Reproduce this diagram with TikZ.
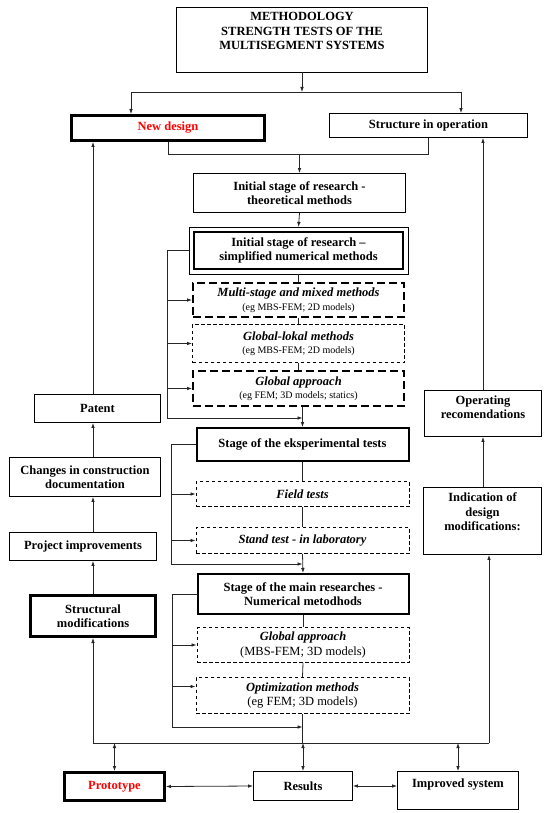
\documentclass[tikz,border=0pt]{standalone}
\usepackage{fontspec}
\setmainfont{Liberation Serif}
\usetikzlibrary{arrows.meta,calc}
\begin{document}
\begin{tikzpicture}[x=1pt,y=-1pt,
  box/.style={draw=black, line width=0.9pt, rectangle, inner sep=0pt, align=center,
    font=\fontsize{12.5}{14.5}\selectfont\bfseries},
  bbox/.style={box, line width=2pt},
  tbox/.style={box, line width=3pt},
  dbox/.style={box, dash pattern=on 3.5pt off 2.5pt, line width=0.9pt,
    font=\fontsize{12.5}{14.5}\selectfont},
  Dbox/.style={box, dash pattern=on 8pt off 4pt, line width=2pt,
    font=\fontsize{12.5}{14.5}\selectfont},
  hd/.style={},
  ln/.style={draw=black!85, line width=0.8pt},
  arr/.style={ln, -{Latex[length=5pt,width=3.6pt]}},
  darr/.style={ln, {Latex[length=5pt,width=3.6pt]}-{Latex[length=5pt,width=3.6pt]}}
]
\useasboundingbox (0,0) rectangle (550,813);

% ---------- nodes ----------
\node[box, minimum width=251, minimum height=65, text depth=17pt] (title) at (302,39.5)
  {METHODOLOGY\\STRENGTH TESTS OF THE\\MULTISEGMENT SYSTEMS};
\node[tbox, minimum width=193, minimum height=25, text=red] (newdesign) at (168,128) {New design};
\node[box, minimum width=198, minimum height=24] (structure) at (428.5,125.5) {Structure in operation};
\node[box, minimum width=212, minimum height=39] (theo) at (299.5,193)
  {Initial stage of research -\\theoretical methods};
\node[bbox, minimum width=209, minimum height=37] (simpl) at (298.5,250.5)
  {Initial stage of research --\\simplified numerical methods};
\draw[line width=0.9pt] ([shift={(-4pt,4pt)}]simpl.north west) rectangle ([shift={(4pt,-4pt)}]simpl.south east);
\node[Dbox, minimum width=211, minimum height=34] (multi) at (298.5,300)
  {{\bfseries\itshape Multi-stage and mixed methods}\\[-1pt]{\fontsize{10}{12}\selectfont (eg MBS-FEM; 2D models)}};
\node[dbox, minimum width=212, minimum height=38] (glok) at (298.5,343.5)
  {{\bfseries\itshape Global-lokal methods}\\[-1pt]{\fontsize{10}{12}\selectfont (eg MBS-FEM; 2D models)}};
\node[Dbox, minimum width=211, minimum height=35] (gapp) at (298.5,388.5)
  {{\bfseries\itshape Global approach}\\[-1pt]{\fontsize{10}{12}\selectfont (eg FEM; 3D models; statics)}};
\node[bbox, minimum width=212, minimum height=33] (eksp) at (302.5,444.5) {Stage of the eksperimental tests};
\node[dbox, minimum width=213, minimum height=25] (field) at (302.5,494) {\bfseries\itshape Field tests};
\node[dbox, minimum width=213, minimum height=26] (stand) at (302.5,540.5) {\bfseries\itshape Stand test - in laboratory};
\node[bbox, minimum width=211, minimum height=40] (main) at (303,594)
  {Stage of the main researches -\\Numerical metodhods};
\node[dbox, minimum width=212, minimum height=35] (gapp2) at (303,645)
  {{\bfseries\itshape Global approach}\\(MBS-FEM; 3D models)};
\node[dbox, minimum width=213, minimum height=36] (optim) at (302.5,695.5)
  {{\bfseries\itshape Optimization methods}\\(eg FEM; 3D models)};

\node[box, minimum width=126, minimum height=28] (patent) at (97.5,408.5) {Patent};
\node[box, minimum width=151, minimum height=39] (changes) at (85,477) {Changes in construction\\documentation};
\node[box, minimum width=147, minimum height=28] (project) at (83,546.5) {Project improvements};
\node[tbox, minimum width=125, minimum height=41] (structmod) at (93,616) {Structural\\modifications};

\node[box, minimum width=117, minimum height=46, text depth=13pt] (operating) at (483,413.5) {Operating\\recomendations};
\node[box, minimum width=118, minimum height=67, text depth=18pt] (indication) at (482.5,521)
  {Indication of\\design\\modifications:};

\node[tbox, minimum width=100, minimum height=28, text=red] (prototype) at (114.5,786.5) {Prototype};
\node[box, minimum width=99, minimum height=29] (results) at (303,786) {Results};
\node[box, minimum width=121, minimum height=38, text depth=14pt] (improved) at (458,790.5) {Improved system};

% ---------- connectors ----------
\coordinate (jt) at (302,92);
\draw[arr] (title.south) -- (jt);
\draw[arr] (jt) -| ([xshift=-37pt]newdesign.north);
\draw[arr] (jt) -| ([xshift=32.5pt]structure.north);

\coordinate (jn) at (theo.north |- 0,154);
\draw[ln] (newdesign.south) |- (jn);
\draw[ln] (structure.south) |- (jn);
\draw[arr] (jn) -- (theo.north);
\draw[arr] (theo.south) -- ([yshift=4pt]simpl.north);
\draw[ln] ([yshift=-4pt]simpl.south) -- (multi.north);
\draw[ln] (multi.south) -- (glok.north);
\draw[ln] (glok.south) -- (gapp.north);
\draw[arr] (gapp.south -| eksp.north) -- (eksp.north);

% bracket 1
\coordinate (l1) at (167,418);
\coordinate (j3) at (eksp.north |- 0,418);
\draw[arr] ([xshift=-4pt]simpl.west) -| (l1) -- (j3);
\draw[arr] (l1 |- multi.west) -- (multi.west);
\draw[arr] (l1 |- glok.west) -- (glok.west);
\draw[arr] (l1 |- gapp.west) -- (gapp.west);

% bracket 2
\coordinate (l2) at (171,564);
\coordinate (j4) at (stand.south |- 0,564);
\draw[ln] (eksp.south) -- (field.north);
\draw[ln] (field.south) -- (stand.north);
\draw[arr] (stand.south) -- (main.north);
\draw[arr] (eksp.west) -| (l2) -- (j4);
\draw[arr] (l2 |- field.west) -- (field.west);
\draw[arr] (l2 |- stand.west) -- (stand.west);

% bracket 3
\coordinate (bl) at (93,743);
\coordinate (br) at (489,743);
\coordinate (l3) at (172,727);
\coordinate (j5) at (optim.south |- 0,727);
\draw[ln] (main.south) -- (gapp2.north);
\draw[ln] (gapp2.south) -- (optim.north);
\draw[ln] (optim.south) -- (optim.south |- bl);
\draw[arr] (main.west) -| (l3) -- (j5);
\draw[arr] (l3 |- gapp2.west) -- (gapp2.west);
\draw[arr] ([yshift=9pt]optim.west -| l3) -- ([yshift=9pt]optim.west);

% bottom
\draw[ln] (bl) -- (br);
\draw[arr] (bl) -- (structmod.south);
\draw[arr] (br) -- (br |- indication.south);
\draw[darr] (prototype.north |- bl) -- (prototype.north);
\draw[darr] (results.north |- bl) -- (results.north);
\draw[darr] (improved.north |- bl) -- (improved.north);
\draw[darr] (prototype.east) -- (results.west);
\draw[darr] (results.east) -- (results.east -| improved.west);

% left column
\draw[arr] (structmod.north) -- (structmod.north |- project.south);
\draw[arr] (project.north -| structmod.north) -- (structmod.north |- changes.south);
\draw[arr] (changes.north -| structmod.north) -- (structmod.north |- patent.south);
\draw[arr] (patent.north -| structmod.north) -- (structmod.north |- newdesign.south);

% right column
\draw[arr] (indication.north -| operating.south) -- (operating.south);
\draw[arr] (operating.north) -- (operating.north |- structure.south);
\end{tikzpicture}
\end{document}
